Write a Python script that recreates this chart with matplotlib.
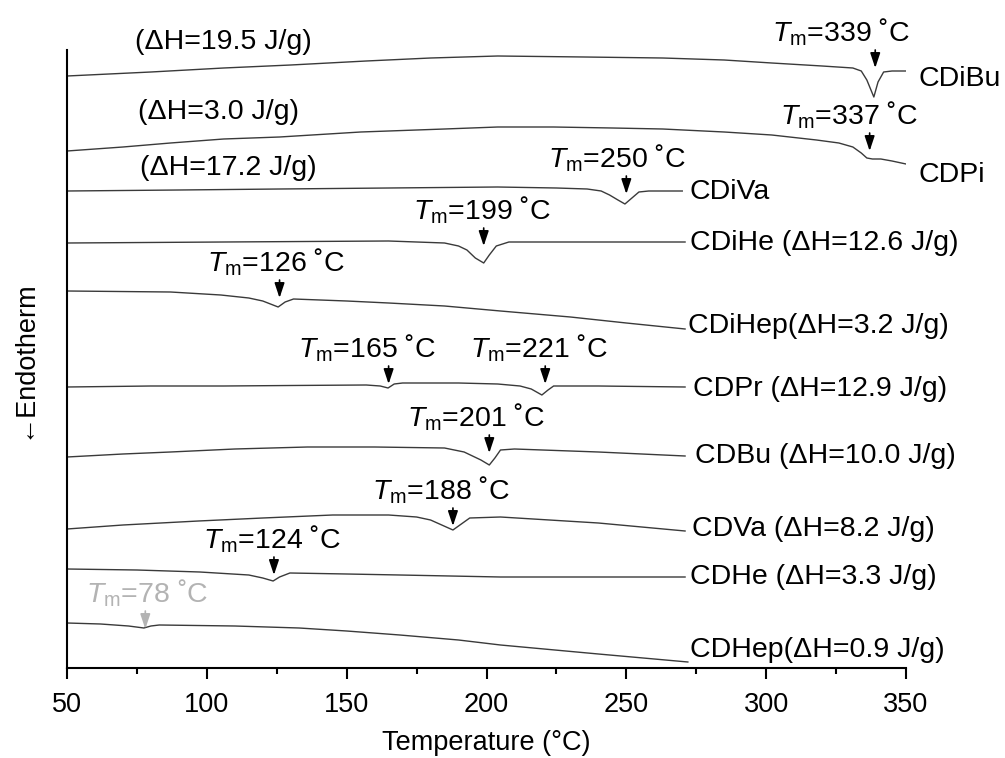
import numpy as np
import matplotlib
matplotlib.use("Agg")
import matplotlib.pyplot as plt

plt.rcParams['font.family'] = ['Liberation Sans', 'DejaVu Sans']
plt.rcParams['mathtext.fontset'] = 'custom'
plt.rcParams['mathtext.rm'] = 'Liberation Sans'
plt.rcParams['mathtext.it'] = 'Liberation Sans:italic'

# DSC traces, temperature (C) and stacked heat-flow signal (a.u.)
cdibu_t = [50, 80, 106, 130, 157, 180, 204, 235, 263, 285, 302, 320, 331, 334, 336, 338.5, 340, 342, 345, 350]
cdibu_s = [592, 596, 600, 603, 607, 610, 612, 611, 610, 608, 605, 602, 600, 597, 588, 571, 586, 596, 597, 597]

cdpi_t = [50, 70, 87, 106, 126, 155, 185, 204, 224, 245, 263, 285, 302, 318, 326, 331, 334, 336, 338, 341, 345, 350]
cdpi_s = [517, 521, 525, 529, 531, 536, 539, 541, 541, 540, 539, 536, 533, 528, 525, 521, 515, 510, 509, 509, 507, 504]

cdiva_t = [50, 90, 126, 165, 204, 225, 236, 241, 244, 247, 249.5, 252, 254.5, 258, 270]
cdiva_s = [477, 478, 479, 480, 481, 480, 479, 477, 473, 468, 464, 470, 476, 477, 477]

cdihe_t = [50, 106, 165, 185, 190, 193, 196, 199, 201, 203.5, 208, 240, 271]
cdihe_s = [425, 426, 427, 425, 422, 418, 410, 405, 413, 422, 426, 426, 426]

cdihep_t = [50, 87, 105, 115, 120, 125.5, 128, 131, 150, 165, 185, 205, 230, 250, 271]
cdihep_s = [377, 376, 373, 370, 367, 361, 366, 369, 367, 365, 362, 357, 351, 345, 339]

cdpr_t = [50, 80, 106, 130, 157, 162, 164.8, 167, 170, 190, 204, 212, 216, 219.8, 222, 224, 240, 271]
cdpr_s = [281, 282, 282, 282.5, 283, 282, 280, 284, 285, 285, 284, 282, 279, 273, 278, 282, 282, 281]

cdbu_t = [50, 70, 87, 110, 136, 160, 185, 192, 195, 198, 201, 203, 205, 210, 240, 271]
cdbu_s = [211, 214, 216, 219, 221, 221, 220, 216, 212, 208, 203, 210, 218, 219, 216, 212]

cdva_t = [50, 70, 97, 120, 145, 165, 175, 180, 184, 188, 191, 194, 205, 240, 271]
cdva_s = [139, 143, 147, 150, 153, 153, 151, 148, 143, 138, 144, 150, 151, 145, 137]

cdhe_t = [50, 75, 97.5, 115, 120, 123.7, 126, 129.7, 150, 169, 205, 240, 271]
cdhe_s = [99, 98, 96, 93, 90, 87, 91, 95, 94, 93, 91, 91, 91]

cdhep_t = [50, 62, 72, 77.5, 80, 83, 110, 133, 150, 169, 190, 205, 240, 272]
cdhep_s = [45, 44, 42, 40, 42, 43, 42, 40, 37, 33, 28, 23, 14, 6]

curves = [(cdibu_t, cdibu_s), (cdpi_t, cdpi_s), (cdiva_t, cdiva_s), (cdihe_t, cdihe_s),
          (cdihep_t, cdihep_s), (cdpr_t, cdpr_s), (cdbu_t, cdbu_s), (cdva_t, cdva_s),
          (cdhe_t, cdhe_s), (cdhep_t, cdhep_s)]

names = ['CDiBu', 'CDPi', 'CDiVa', 'CDiHe (ΔH=12.6 J/g)', 'CDiHep(ΔH=3.2 J/g)',
         'CDPr (ΔH=12.9 J/g)', 'CDBu (ΔH=10.0 J/g)', 'CDVa (ΔH=8.2 J/g)',
         'CDHe (ΔH=3.3 J/g)', 'CDHep(ΔH=0.9 J/g)']
name_pos = [(354.3, 589), (354.3, 493), (272.7, 476), (272.7, 425), (272.0, 342),
            (273.8, 279), (274.5, 212), (273.5, 139), (272.7, 91), (272.7, 18)]

dh_labels = ['(ΔH=19.5 J/g)', '(ΔH=3.0 J/g)', '(ΔH=17.2 J/g)']
dh_pos = [(74.3, 626), (75.4, 556), (76.1, 500)]

tm_values = [339, 337, 250, 199, 126, 165, 221, 201, 188, 124, 78]
tm_text_pos = [(302.1, 636), (304.9, 553), (222.0, 510), (173.7, 458), (100.1, 406),
               (132.6, 320), (194.1, 320), (171.6, 251), (159.0, 178), (98.6, 129), (56.8, 75)]
tm_colors = ['k'] * 10 + ['#b3b3b3']

fig = plt.figure(figsize=(10.05, 7.58), dpi=100)
ax = fig.add_axes([67 / 1005, 1 - 668 / 758, 839 / 1005, 618 / 758])

for t, s in curves:
    ax.plot(t, s, color='#3a3a3a', lw=1.0)

fs = 20.5
for txt, (x, y) in zip(names, name_pos):
    ax.text(x, y, txt, fontsize=fs, ha='left', va='center', clip_on=False)
for txt, (x, y) in zip(dh_labels, dh_pos):
    ax.text(x, y, txt, fontsize=fs, ha='left', va='center')

for tm, (x, y), c in zip(tm_values, tm_text_pos, tm_colors):
    ax.text(x, y, r'$T_{\mathrm{m}}$=%d ˚C' % tm, fontsize=fs, ha='left', va='center', color=c)
    ax.annotate('', xy=(tm, y - 36), xytext=(tm, y - 18),
                arrowprops=dict(arrowstyle='-|>,head_length=0.75,head_width=0.25',
                                color=c, lw=1.2, shrinkA=0, shrinkB=0, mutation_scale=12))

ax.set_xlim(50, 350)
ax.set_ylim(0, 618)
ax.set_xticks(np.arange(50, 351, 50))
ax.set_xticks(np.arange(75, 350, 50), minor=True)
ax.set_yticks([])
for sp in ['top', 'right']:
    ax.spines[sp].set_visible(False)
for sp in ['left', 'bottom']:
    ax.spines[sp].set_linewidth(1.5)
ax.tick_params(axis='x', which='major', direction='out', length=8, width=1.5, labelsize=19.5, pad=9)
ax.tick_params(axis='x', which='minor', direction='out', length=4.5, width=1.5)

ax.set_xlabel('Temperature (°C)', fontsize=19.5, labelpad=9)
ax.set_ylabel('←Endotherm', fontsize=19.5)
ax.yaxis.set_label_coords(-0.036, 0.5)

fig.savefig('out.png', dpi=100)
